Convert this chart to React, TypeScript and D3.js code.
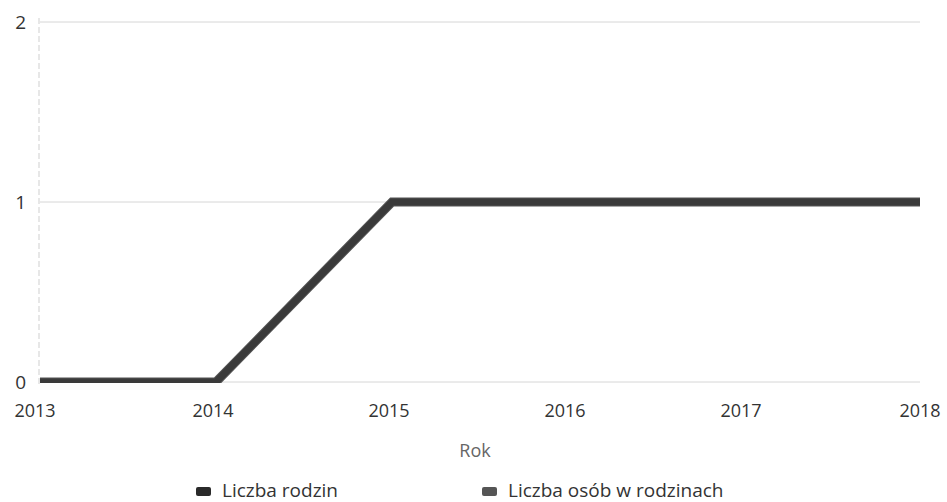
import React from "react";
import * as d3 from "d3";

const years = [2013, 2014, 2015, 2016, 2017, 2018];
const liczbaRodzin = [0, 0, 1, 1, 1, 1];
const liczbaOsob = [0, 0, 1, 1, 1, 1];
const yTicks = [0, 1, 2];
const seriesNames = ["Liczba rodzin", "Liczba osób w rodzinach"];
const xTitle = "Rok";

const W = 947;
const H = 502;

export default function App() {
  const x = d3.scaleLinear().domain([2013, 2018]).range([40, 920]);
  const y = d3.scaleLinear().domain([0, 2]).range([382, 22]);
  const line = d3
    .line<number>()
    .x((_, i) => x(years[i]))
    .y((d) => y(d));
  const font = "'Open Sans', 'DejaVu Sans', sans-serif";
  return (
    <svg
      width={W}
      height={H}
      style={{ position: "fixed", left: 0, top: 0, background: "#fff" }}
      fontFamily={font}
    >
      <defs>
        <clipPath id="plot">
          <rect x={0} y={0} width={W} height={y(0) + 1} />
        </clipPath>
      </defs>
      {yTicks.map((t) => (
        <line
          key={t}
          x1={x(2013)}
          x2={x(2018)}
          y1={y(t)}
          y2={y(t)}
          stroke="#d6d6d6"
          strokeWidth={1}
        />
      ))}
      <line
        x1={x(2013) - 1}
        x2={x(2013) - 1}
        y1={y(2) - 4}
        y2={y(0) + 2}
        stroke="#cfcfcf"
        strokeWidth={1}
        strokeDasharray="6 3"
      />
      {yTicks.map((t) => (
        <text
          key={t}
          x={x(2013) - 14}
          y={y(t) + 7}
          fontSize={19}
          textAnchor="end"
          fill="#333"
        >
          {t}
        </text>
      ))}
      {years.map((yr) => (
        <text
          key={yr}
          x={x(yr)}
          y={y(0) + 35}
          fontSize={18}
          textAnchor="middle"
          dx={yr === 2013 ? -5 : yr === 2018 ? 0 : -3}
          fill="#333"
        >
          {yr}
        </text>
      ))}
      <text x={475} y={457} fontSize={18} fill="#666" textAnchor="middle">
        {xTitle}
      </text>
      <g clipPath="url(#plot)">
        <path
          d={line(liczbaOsob) || ""}
          fill="none"
          stroke="#555"
          strokeWidth={9}
          strokeLinejoin="miter"
        />
        <path
          d={line(liczbaRodzin) || ""}
          fill="none"
          stroke="#3a3a3a"
          strokeWidth={7}
          strokeLinejoin="miter"
        />
      </g>
      {seriesNames.map((name, i) => {
        const lx = i === 0 ? 196 : 482;
        return (
          <g key={name}>
            <rect
              x={lx}
              y={487}
              width={15}
              height={9}
              rx={2}
              fill={i === 0 ? "#2a2a2a" : "#555"}
            />
            <text x={lx + 26} y={497} fontSize={19} fill="#333">
              {name}
            </text>
          </g>
        );
      })}
    </svg>
  );
}
